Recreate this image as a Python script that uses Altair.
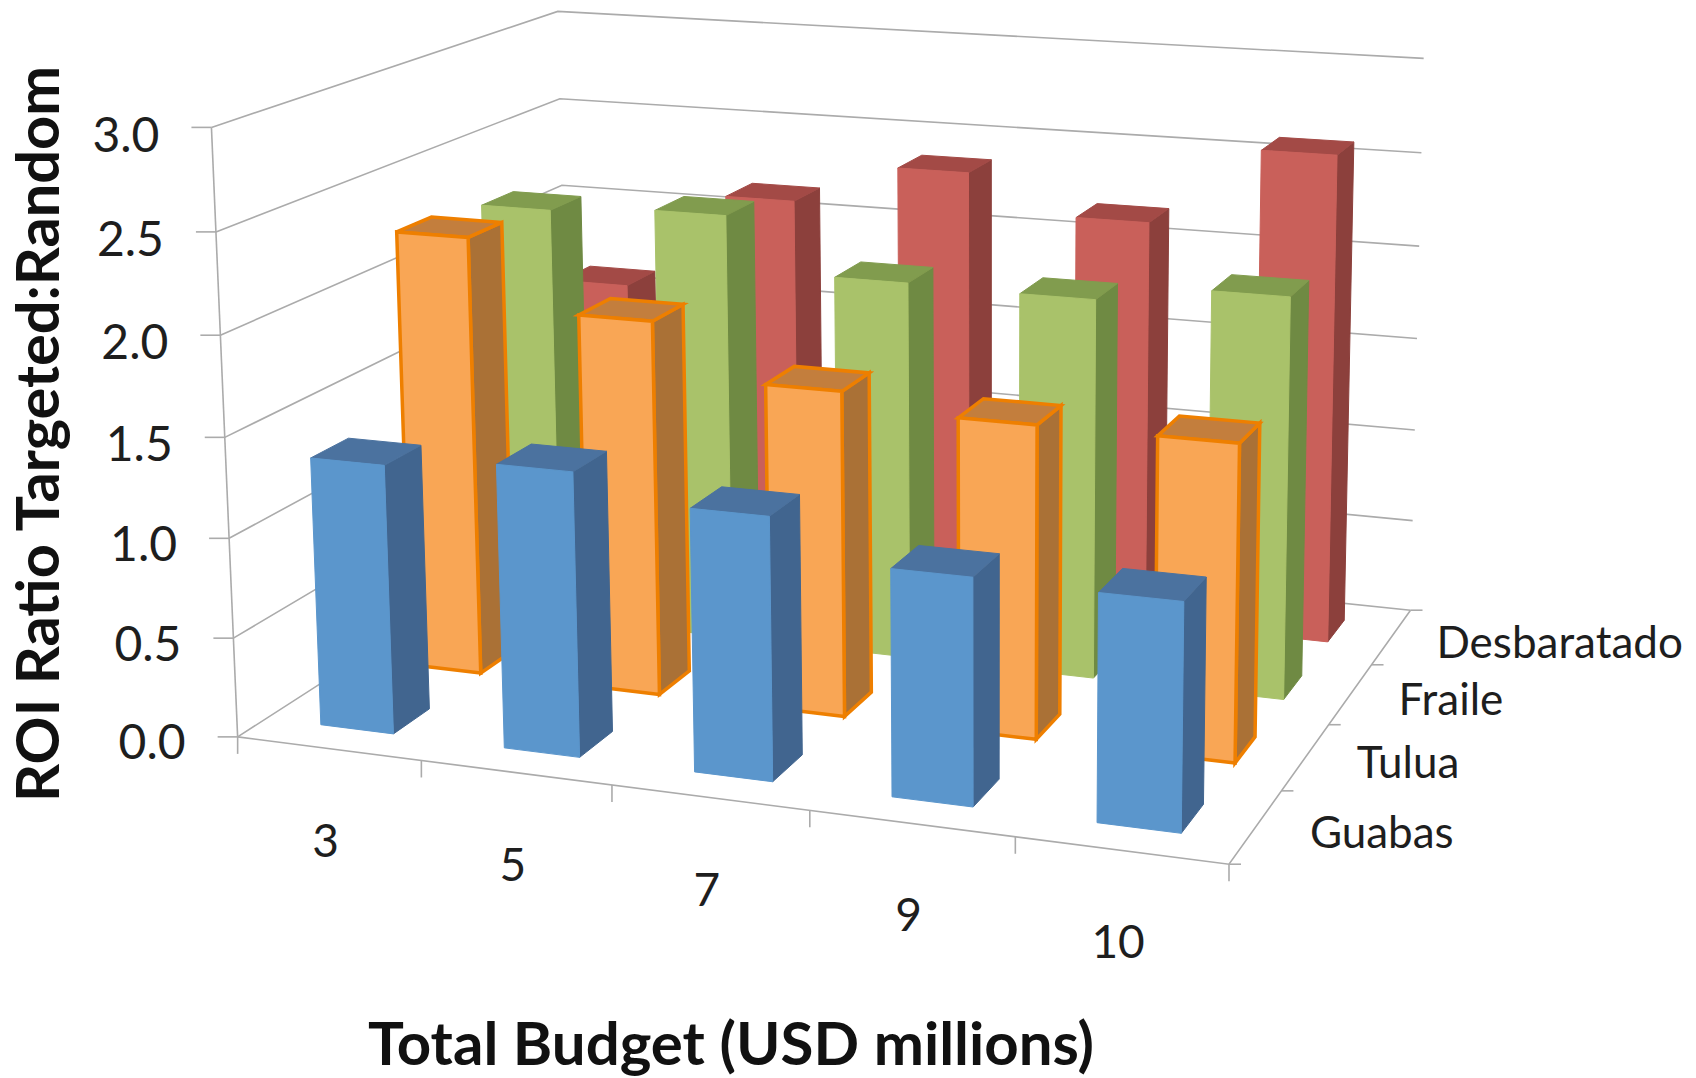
import altair as alt
import numpy as np
import pandas as pd

budgets = ["3", "5", "7", "9", "10"]
sites = ["Guabas", "Tulua", "Fraile", "Desbaratado"]
guabas = [1.35, 1.41, 1.29, 1.10, 1.09]
tulua = [2.27, 1.92, 1.65, 1.57, 1.57]
fraile = [2.22, 2.26, 1.98, 1.97, 2.06]
desbaratado = [1.61, 2.15, 2.37, 2.17, 2.59]
value_ticks = [0.0, 0.5, 1.0, 1.5, 2.0, 2.5, 3.0]
x_title = "Total Budget (USD millions)"
y_title = "ROI Ratio Targeted:Random"

W, H = 1680, 1070
series = [guabas, tulua, fraile, desbaratado]
palette = [
    dict(front="#5B96CC", side="#41658F", top="#4B729F", edge=None),
    dict(front="#F9A655", side="#AA7136", top="#C37E3D", edge="#EE7F00"),
    dict(front="#A9C26A", side="#6F8A43", top="#819C4E", edge=None),
    dict(front="#C9605A", side="#8C403C", top="#A34A46", edge=None),
]

# Camera of the 3-D box: (budget fraction, site fraction, value) -> page pixel
world = [(0, 0, 0), (1, 0, 0), (1, 1, 0), (0, 0, 3), (0, 1, 3), (1, 1, 3)]
image = [(238, 737.5), (1228, 865), (1411, 609), (212, 126), (557, 12), (1424, 59)]
rows = []
for (a, b, c), (px, py) in zip(world, image):
    rows.append([a, b, c, 1, 0, 0, 0, 0, -px * a, -px * b, -px * c, -px])
    rows.append([0, 0, 0, 0, a, b, c, 1, -py * a, -py * b, -py * c, -py])
camera = np.linalg.svd(np.array(rows, float))[2][-1].reshape(3, 4)


def project(u, v, z):
    p = camera @ np.array([u, v, z, 1.0])
    return [float(p[0] / p[2]), float(p[1] / p[2])]


def shape(points, fill, stroke, width, closed=True):
    if closed:
        geom = {"type": "Polygon", "coordinates": [points + [points[0]]]}
    else:
        geom = {"type": "LineString", "coordinates": points}
    return {
        "type": "Feature",
        "geometry": geom,
        "properties": {"fill": fill, "stroke": stroke, "sw": width},
    }


GRID = "#ABABAB"
lines = []
for z in value_ticks:
    if z > 0:
        lines.append(shape([project(0, 0, z), project(0, 1, z), project(1, 1, z)], "none", GRID, 1.6, False))
lines.append(shape([project(0, 0, 0), project(0, 1, 0), project(1, 1, 0)], "none", GRID, 1.6, False))
lines.append(shape([project(0, 0, 0), project(1, 0, 0), project(1, 1, 0)], "none", GRID, 1.6, False))
lines.append(shape([project(0, 0, 0), project(0, 0, 3)], "none", GRID, 1.6, False))
for z in value_ticks:
    a = project(0, 0, z)
    lines.append(shape([a, [a[0] - 20, a[1]]], "none", GRID, 1.6, False))
for i in range(len(budgets) + 1):
    a = project(i / len(budgets), 0, 0)
    lines.append(shape([a, [a[0], a[1] + 17]], "none", GRID, 1.6, False))
for j in range(len(sites) + 1):
    a = project(1, j / len(sites), 0)
    lines.append(shape([a, [a[0] + 12, a[1]]], "none", GRID, 1.6, False))

GAP = 0.3
faces = []
nx, ny = len(budgets), len(sites)
for j in reversed(range(ny)):
    col = palette[j]
    for i in range(nx):
        val = series[j][i]
        u0, u1 = (i + GAP) / nx, (i + 1 - GAP) / nx
        v0, v1 = (j + GAP) / ny, (j + 1 - GAP) / ny
        edge = col["edge"]
        sw = 3.5 if edge else 1
        faces.append(shape([project(u1, v0, 0), project(u1, v1, 0), project(u1, v1, val), project(u1, v0, val)],
                           col["side"], edge or col["side"], sw))
        faces.append(shape([project(u0, v0, val), project(u1, v0, val), project(u1, v1, val), project(u0, v1, val)],
                           col["top"], edge or col["top"], sw))
        faces.append(shape([project(u0, v0, 0), project(u1, v0, 0), project(u1, v0, val), project(u0, v0, val)],
                           col["front"], edge or col["front"], sw))


def geo(features):
    return alt.Chart(alt.Data(values=features)).mark_geoshape().encode(
        fill=alt.Fill("properties.fill:N", scale=None),
        stroke=alt.Stroke("properties.stroke:N", scale=None),
        strokeWidth=alt.StrokeWidth("properties.sw:Q", scale=None),
    ).project(type="identity", scale=1, translate=[-8, -8])


xs = alt.X("x:Q", scale=alt.Scale(domain=[8, 8 + W]), axis=None)
ys = alt.Y("y:Q", scale=alt.Scale(domain=[8 + H, 8]), axis=None)

FONT = "Lato"
INK = "#1E1E1E"
vt = pd.DataFrame([{"x": project(0, 0, z)[0] - 52, "y": project(0, 0, z)[1] + 8 + z, "t": f"{z:.1f}"} for z in value_ticks])
bt = pd.DataFrame([{"x": project((i + 0.5) / nx, 0, 0)[0] - 3, "y": project((i + 0.5) / nx, 0, 0)[1] + 94, "t": b}
                   for i, b in enumerate(budgets)])
st = pd.DataFrame([{"x": project(1, (j + 0.5) / ny, 0)[0] + 54 - 3 * j, "y": project(1, (j + 0.5) / ny, 0)[1] + 8, "t": s}
                   for j, s in enumerate(sites)])

value_labels = alt.Chart(vt).mark_text(font=FONT, fontSize=48, align="right", baseline="middle", color=INK).encode(x=xs, y=ys, text="t:N")
budget_labels = alt.Chart(bt).mark_text(font=FONT, fontSize=46, align="center", baseline="middle", color=INK).encode(x=xs, y=ys, text="t:N")
site_labels = alt.Chart(st).mark_text(font=FONT, fontSize=44, align="left", baseline="middle", color=INK).encode(x=xs, y=ys, text="t:N")
title_x = alt.Chart(pd.DataFrame([{"x": 731, "y": 1047, "t": x_title}])).mark_text(
    font=FONT, fontSize=60, fontWeight="bold", align="center", baseline="middle", color="#111111").encode(x=xs, y=ys, text="t:N")
title_y = alt.Chart(pd.DataFrame([{"x": 41, "y": 434, "t": y_title}])).mark_text(
    font=FONT, fontSize=59.5, fontWeight="bold", align="center", baseline="middle", angle=270, color="#111111").encode(x=xs, y=ys, text="t:N")

chart = alt.layer(geo(lines), geo(faces), value_labels, budget_labels, site_labels, title_x, title_y).properties(
    width=W, height=H, padding=0, autosize=alt.AutoSizeParams(type="none")
).configure_view(stroke=None)

chart.save("out.html", embed_options={"renderer": "svg", "actions": False})
